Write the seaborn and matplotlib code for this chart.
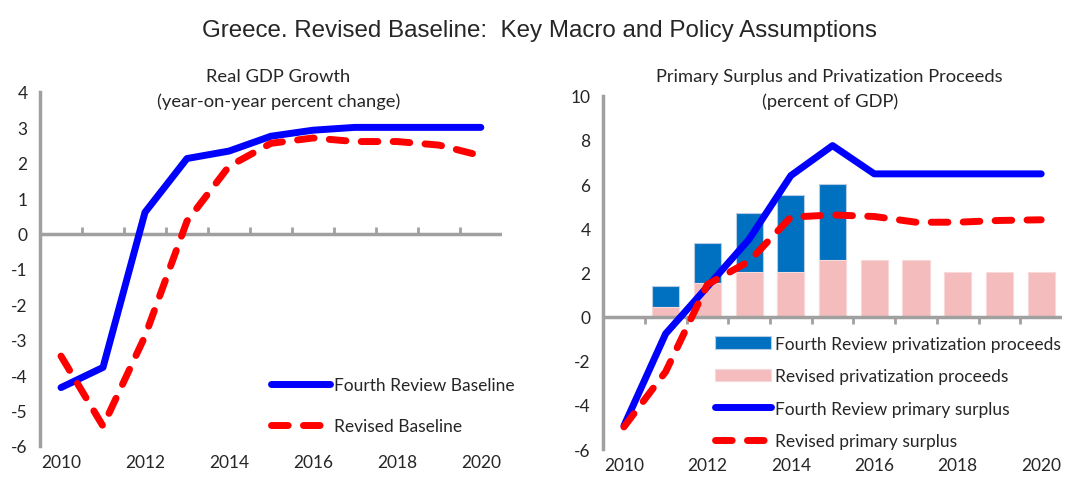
import matplotlib
matplotlib.use('Agg')
import matplotlib.pyplot as plt
import seaborn as sns
import numpy as np
import pandas as pd

# Data
years = [2010, 2011, 2012, 2013, 2014, 2015, 2016, 2017, 2018, 2019, 2020]
gdp_fourth = [-4.35, -3.78, 0.6, 2.12, 2.33, 2.75, 2.92, 3.0, 3.0, 3.0, 3.0]
gdp_revised = [-3.46, -5.44, -2.9, 0.35, 1.9, 2.55, 2.7, 2.6, 2.6, 2.5, 2.2]

priv_years_fourth = [2011, 2012, 2013, 2014, 2015]
priv_fourth = [1.37, 3.33, 4.67, 5.52, 5.99]
priv_years_revised = [2011, 2012, 2013, 2014, 2015, 2016, 2017, 2018, 2019, 2020]
priv_revised = [0.42, 1.52, 2.0, 2.0, 2.54, 2.54, 2.54, 2.0, 2.0, 2.0]

ps_fourth = [-4.95, -0.78, 1.35, 3.5, 6.38, 7.74, 6.46, 6.46, 6.46, 6.46, 6.46]
ps_revised = [-5.0, -2.5, 1.45, 2.5, 4.5, 4.6, 4.53, 4.27, 4.27, 4.35, 4.38]

year_labels = [str(y) if y % 2 == 0 else "" for y in years]

sns.set_theme(style="white")
plt.rcParams['font.family'] = ['Lato', 'DejaVu Sans']

GRAY = "#a0a0a0"
BLUE = "#0000ff"
RED = "#ff0000"
BAR_BLUE = "#0070c0"
BAR_PINK = "#f4bcbc"
DASH = (0, (2.4, 2.2))
LW = 5
FS = 12.5

fig = plt.figure(figsize=(10.79, 4.81), dpi=100)
ax1 = fig.add_axes([0.0371, 0.0707, 0.428, 0.736])
ax2 = fig.add_axes([0.5589, 0.0644, 0.4254, 0.7346])


def style_axis(ax, ylim, yticks):
    ax.set_xlim(years[0] - 0.5, years[-1] + 0.5)
    ax.set_ylim(*ylim)
    ax.set_yticks(yticks)
    ax.set_yticklabels([str(t) for t in yticks], fontsize=FS)
    ax.set_xticks(years)
    ax.set_xticklabels(year_labels, fontsize=FS)
    ax.tick_params(axis='x', length=0, pad=6)
    ax.tick_params(axis='y', length=5, width=2, color=GRAY, direction='out', pad=4)
    for s in ['top', 'right', 'bottom']:
        ax.spines[s].set_visible(False)
    ax.spines['left'].set_color(GRAY)
    ax.spines['left'].set_linewidth(2.5)
    ax.set_xlabel("")
    ax.set_ylabel("")
    # category axis line at zero with ticks between categories
    ax.axhline(0, color=GRAY, linewidth=2.5, zorder=1.5)
    frac = (0 - ylim[0]) / (ylim[1] - ylim[0])
    sec = ax.secondary_xaxis(frac)
    sec.set_xticks(np.array(years[1:]) - 0.5)
    sec.set_xticklabels([])
    sec.tick_params(axis='x', length=5, width=2, color=GRAY, direction='out')
    for s in sec.spines.values():
        s.set_visible(False)


def round_dashes(lines):
    for ln in lines:
        ln.set_dash_capstyle('round')
        ln.set_solid_capstyle('round')


# Left panel: real GDP growth
sns.lineplot(x=years, y=gdp_fourth, ax=ax1, color=BLUE, linewidth=LW,
             label="Fourth Review Baseline")
sns.lineplot(x=years, y=gdp_revised, ax=ax1, color=RED, linewidth=LW,
             linestyle=DASH, label="Revised Baseline")
round_dashes(ax1.get_lines())
style_axis(ax1, (-6, 4), list(range(-6, 5)))
leg1 = ax1.legend(loc='lower left', bbox_to_anchor=(0.5, 0.035), frameon=False,
                  fontsize=FS, handlelength=3.4, handletextpad=0.25,
                  labelspacing=1.4, borderpad=0, borderaxespad=0)
round_dashes(leg1.get_lines())

# Right panel: primary surplus and privatization proceeds
df_f = pd.DataFrame({"year": priv_years_fourth, "value": priv_fourth})
df_r = pd.DataFrame({"year": priv_years_revised, "value": priv_revised})
sns.barplot(data=df_f, x="year", y="value", ax=ax2, native_scale=True,
            color=BAR_BLUE, saturation=1, width=0.65, edgecolor="#b8cce4",
            linewidth=0.8, label="Fourth Review privatization proceeds")
sns.barplot(data=df_r, x="year", y="value", ax=ax2, native_scale=True,
            color=BAR_PINK, saturation=1, width=0.65, edgecolor="#f8d8d8",
            linewidth=0.8, label="Revised privatization proceeds")
sns.lineplot(x=years, y=ps_fourth, ax=ax2, color=BLUE, linewidth=LW,
             label="Fourth Review primary surplus")
sns.lineplot(x=years, y=ps_revised, ax=ax2, color=RED, linewidth=LW,
             linestyle=DASH, label="Revised primary surplus")
round_dashes(ax2.get_lines())
style_axis(ax2, (-6, 10), list(range(-6, 11, 2)))
handles, labels = ax2.get_legend_handles_labels()
order = [labels.index(l) for l in ["Fourth Review privatization proceeds",
                                   "Revised privatization proceeds",
                                   "Fourth Review primary surplus",
                                   "Revised primary surplus"]]
leg2 = ax2.legend([handles[i] for i in order], [labels[i] for i in order],
                  loc='lower left', bbox_to_anchor=(0.244, 0.0), frameon=False,
                  fontsize=FS, handlelength=3.2, handletextpad=0.25,
                  labelspacing=0.95, borderpad=0, borderaxespad=0)
round_dashes(leg2.get_lines())

# Titles
fig.text(0.5, 0.935, "Greece. Revised Baseline:  Key Macro and Policy Assumptions",
         ha='center', va='center', fontsize=17.4,
         family=['Liberation Sans Narrow', 'Liberation Sans', 'DejaVu Sans'])
fig.text(0.258, 0.814, "Real GDP Growth\n(year-on-year percent change)",
         ha='center', va='center', fontsize=13.2, linespacing=1.62)
fig.text(0.769, 0.814, "Primary Surplus and Privatization Proceeds\n(percent of GDP)",
         ha='center', va='center', fontsize=13.2, linespacing=1.62)

fig.savefig("out.png", dpi=100)
